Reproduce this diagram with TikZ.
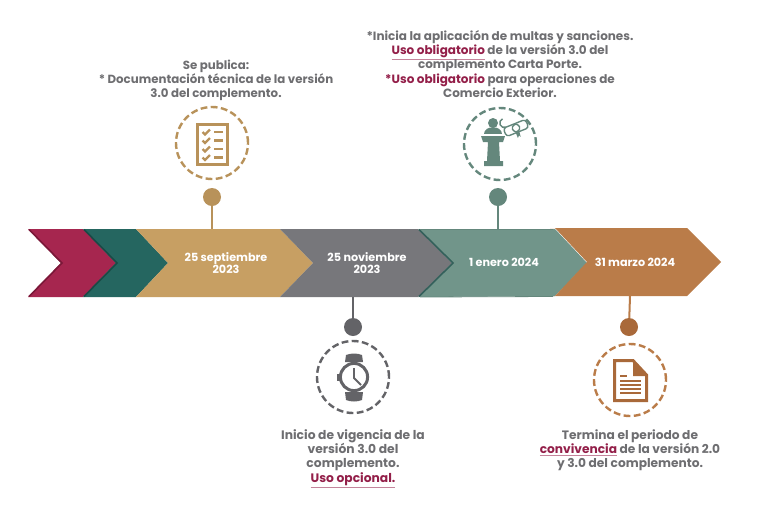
\documentclass[tikz,border=0pt]{standalone}
\usepackage{fontspec}
\setmainfont{Poppins}
\definecolor{crimson}{HTML}{A6264F}
\definecolor{crimsondark}{HTML}{7A1838}
\definecolor{pine}{HTML}{256660}
\definecolor{pinedark}{HTML}{1A4A46}
\definecolor{wheat}{HTML}{C79F63}
\definecolor{wheatdark}{HTML}{B8925A}
\definecolor{slate}{HTML}{77777B}
\definecolor{slatedark}{HTML}{636367}
\definecolor{sage}{HTML}{71958A}
\definecolor{sagedark}{HTML}{64877C}
\definecolor{copper}{HTML}{BA7C49}
\definecolor{copperdark}{HTML}{A9693A}
\definecolor{bodytext}{HTML}{6E6E71}
\definecolor{accent}{HTML}{931F49}
\tikzset{
    datelabel/.style={text=white, font=\fontsize{11.2}{12.5}\selectfont\bfseries, align=center, inner sep=0},
    bodylabel/.style={text=bodytext, font=\fontsize{#1}{14.2}\selectfont\bfseries, align=center, inner sep=0},
    ring/.style={circle, draw=#1, line width=2.4pt, dash pattern=on 6.8pt off 3.4pt, minimum size=72pt, inner sep=0},
    dot/.style={circle, fill=#1, minimum size=18pt, inner sep=0},
    stem/.style={draw=#1, line width=2pt}
}
\newcommand{\accenttext}[1]{\textcolor{accent}{#1}}
\newcommand{\accentline}[1]{\textcolor{accent!55}{\underline{\textcolor{accent}{#1}}}}
\begin{document}
\begin{tikzpicture}[x=1pt, y=-1pt]
    \useasboundingbox (0,0) rectangle (763,507);

    % Arrow band
    \fill[crimson] (28,229) -- (83,229) -- (116,263) -- (83,297) -- (28,297) -- (61,263) -- cycle;
    \fill[pine] (83,229) -- (136,229) -- (168,263) -- (136,297) -- (83,297) -- (116,263) -- cycle;
    \fill[wheat] (136,229) -- (280,229) -- (313,263) -- (280,297) -- (136,297) -- (168,263) -- cycle;
    \fill[slate] (280,229) -- (418,229) -- (452,263) -- (418,297) -- (280,297) -- (313,263) -- cycle;
    \fill[sage] (418,229) -- (555,229) -- (587,263) -- (555,296) -- (418,297) -- (452,263) -- cycle;
    \fill[copper] (550,228) -- (687,228) -- (721,262) -- (687,296) -- (550,296) -- (555,296) -- (587,262) -- (555,228) -- cycle;

    % Darker edges
    \draw[crimsondark, line width=1.6pt] (29,229.5) -- (62,263) -- (29,296.5);
    \draw[pinedark, line width=1.6pt] (84,229.5) -- (117,263) -- (84,296.5);
    \draw[pinedark!70!sage, line width=1.6pt] (419,229.5) -- (453,263) -- (419,296.5);
    \draw[sagedark, line width=0.8pt] (420,229) -- (553,229);
    \draw[sagedark, line width=0.8pt] (420,297) -- (553,296.5);

    % Dates
    \node[datelabel] (date_sep) at (226,263) {25 septiembre\\2023};
    \node[datelabel] (date_nov) at (367,263) {25 noviembre\\2023};
    \node[datelabel] (date_ene) at (504,262) {1 enero 2024};
    \node[datelabel] (date_mar) at (635,262) {31 marzo 2024};

    % Points on the band
    \coordinate (stem_sep) at (212,229);
    \coordinate (stem_nov) at (353,297);
    \coordinate (stem_ene) at (498,229);
    \coordinate (stem_mar) at (630,296);

    % Dots and stems
    \node[dot=wheatdark] (dot_sep) at (212,197) {};
    \node[dot=slatedark] (dot_nov) at (353,327) {};
    \node[dot=sagedark] (dot_ene) at (498,197) {};
    \node[dot=copperdark] (dot_mar) at (629,327) {};
    \draw[stem=wheatdark] (dot_sep) -- (stem_sep);
    \draw[stem=slatedark] (dot_nov) -- (stem_nov);
    \draw[stem=sagedark] (dot_ene) -- (stem_ene);
    \draw[stem=copper] (dot_mar) -- (stem_mar);

    % Dashed rings
    \node[ring=wheatdark] (ring_sep) at (212,143) {};
    \node[ring=slatedark] (ring_nov) at (353,377) {};
    \node[ring=sagedark] (ring_ene) at (500,144) {};
    \node[ring=copper] (ring_mar) at (630,380) {};

    % Checklist icon
    \draw[wheatdark, line width=3.2pt] (197.5,124.5) rectangle (227.5,164.5);
    \foreach \y in {132,140.5,149,157.5} {
        \draw[wheatdark, line width=2.2pt] (202.5,\y) -- (205,\y+2.5) -- (210,\y-2.5);
        \draw[wheatdark, line width=2.2pt] (214,\y) -- (223,\y);
    }

    % Watch icon
    \fill[slatedark] (345,362) -- (346,355) .. controls (351,353) and (357,353) .. (362,355) -- (363,362) -- cycle;
    \fill[slatedark] (345,392) -- (346,400) .. controls (351,402) and (357,402) .. (362,400) -- (363,392) -- cycle;
    \fill[slatedark] (337,374) rectangle (341,381);
    \draw[slatedark, fill=white, line width=3pt] (354,377) circle (13.6);
    \draw[slatedark, line width=1.8pt] (354,368) -- (354,378) -- (361,385);

    % Lectern icon
    \fill[sagedark] (493,123) circle (5);
    \fill[sagedark] (484,134) .. controls (484,125) and (502,125) .. (502,134) -- cycle;
    \fill[sagedark] (481,136) -- (505,136) -- (503,142) -- (499,142) -- (500,161) -- (503,161) -- (503,166) -- (484,166) -- (484,161) -- (487,161) -- (488,142) -- (483,142) -- cycle;

    % Diploma
    \begin{scope}[shift={(516,128)}, rotate=22]
        \draw[sagedark, line width=1.4pt, rounded corners=3pt] (-12,-4.5) rectangle (12,4.5);
        \draw[sagedark, line width=1.4pt] (-9,-4.5) arc[start angle=90, end angle=270, radius=4.5];
        \fill[sagedark] (-2,3) -- (2,3) -- (1,10) -- (0,8) -- (-2,10) -- cycle;
        \draw[sagedark, fill=white, line width=1.4pt] (0,0) circle (3.8);
    \end{scope}

    % Page icon
    \draw[copperdark, line width=3pt, line join=miter] (614.5,360.5) -- (633,360.5) -- (646.5,375) -- (646.5,400.5) -- (614.5,400.5) -- cycle;
    \fill[copperdark] (633,361) -- (647,376) -- (633,376) -- cycle;
    \draw[copperdark, line width=2pt] (620,376) -- (627,376);
    \foreach \y in {381,385,389,393} {
        \draw[copperdark, line width=2pt] (620,\y) -- (641,\y);
    }

    % Texts
    \node[bodylabel=11.8] (text_sep) at (216,80.5) {Se publica:\\* Documentación técnica de la versión\\3.0 del complemento.};
    \node[bodylabel=12] (text_ene) at (500,64) {*Inicia la aplicación de multas y sanciones.\\\accentline{Uso obligatorio} de la versión 3.0 del\\complemento Carta Porte.\\\accenttext{*Uso obligatorio} para operaciones de\\Comercio Exterior.};
    \node[bodylabel=12.3] (text_nov) at (353,458.5) {Inicio de vigencia de la\\versión 3.0 del\\complemento.\\\accentline{Uso opcional.}};
    \node[bodylabel=12.2] (text_mar) at (630,450) {Termina el periodo de\\\accentline{convivencia} de la versión 2.0\\y 3.0 del complemento.};
\end{tikzpicture}
\end{document}
